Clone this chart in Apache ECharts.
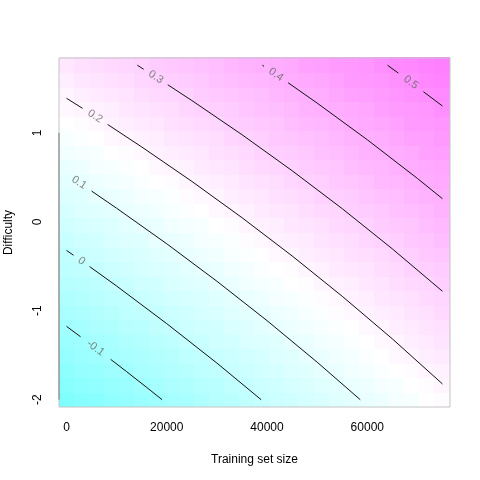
<!DOCTYPE html>
<html>
<head>
<meta charset="utf-8">
<script src="https://cdn.jsdelivr.net/npm/echarts@6/dist/echarts.min.js"></script>
<style>
  html, body { margin: 0; padding: 0; background: #fff; }
  #chart { width: 480px; height: 480px; }
</style>
</head>
<body>
<div id="chart"></div>
<script>
// cell centres of the image grid
var sizes = [0, 3000, 6000, 9000, 12000, 15000, 18000, 21000, 24000, 27000, 30000, 33000, 36000,
  39000, 42000, 45000, 48000, 51000, 54000, 57000, 60000, 63000, 66000, 69000, 72000, 75000];
var difficulty = [-2.000, -1.837, -1.673, -1.510, -1.346, -1.183, -1.019, -0.856, -0.692, -0.529,
  -0.365, -0.202, -0.038, 0.126, 0.289, 0.453, 0.616, 0.780, 0.943, 1.107, 1.270, 1.434, 1.597, 1.761];

// one row per difficulty value (bottom to top), one column per training size
var zValues = [
  [-0.20,-0.18,-0.17,-0.15,-0.14,-0.12,-0.11,-0.09,-0.08,-0.06,-0.04,-0.03,-0.01,0.00,0.02,0.03,0.05,0.06,0.08,0.09,0.11,0.12,0.14,0.15,0.17,0.18],
  [-0.18,-0.16,-0.15,-0.13,-0.12,-0.10,-0.09,-0.07,-0.06,-0.04,-0.03,-0.01,0.00,0.02,0.03,0.05,0.06,0.08,0.09,0.11,0.12,0.14,0.15,0.17,0.18,0.20],
  [-0.16,-0.14,-0.13,-0.11,-0.10,-0.08,-0.07,-0.05,-0.04,-0.02,-0.01,0.01,0.02,0.04,0.05,0.07,0.08,0.10,0.11,0.13,0.14,0.16,0.17,0.18,0.20,0.21],
  [-0.14,-0.12,-0.11,-0.09,-0.08,-0.07,-0.05,-0.04,-0.02,-0.01,0.01,0.02,0.04,0.05,0.07,0.08,0.10,0.11,0.13,0.14,0.16,0.17,0.19,0.20,0.22,0.23],
  [-0.12,-0.11,-0.09,-0.08,-0.06,-0.05,-0.03,-0.02,0.00,0.01,0.03,0.04,0.06,0.07,0.08,0.10,0.11,0.13,0.14,0.16,0.17,0.19,0.20,0.22,0.23,0.25],
  [-0.10,-0.09,-0.07,-0.06,-0.04,-0.03,-0.01,0.00,0.02,0.03,0.04,0.06,0.07,0.09,0.10,0.12,0.13,0.15,0.16,0.17,0.19,0.20,0.22,0.23,0.25,0.26],
  [-0.08,-0.07,-0.05,-0.04,-0.02,-0.01,0.00,0.02,0.03,0.05,0.06,0.08,0.09,0.10,0.12,0.13,0.15,0.16,0.18,0.19,0.21,0.22,0.23,0.25,0.26,0.28],
  [-0.06,-0.05,-0.03,-0.02,-0.01,0.01,0.02,0.04,0.05,0.06,0.08,0.09,0.11,0.12,0.14,0.15,0.16,0.18,0.19,0.21,0.22,0.24,0.25,0.26,0.28,0.29],
  [-0.04,-0.03,-0.02,0.00,0.01,0.03,0.04,0.06,0.07,0.08,0.10,0.11,0.13,0.14,0.15,0.17,0.18,0.20,0.21,0.22,0.24,0.25,0.27,0.28,0.29,0.31],
  [-0.02,-0.01,0.00,0.02,0.03,0.05,0.06,0.07,0.09,0.10,0.11,0.13,0.14,0.16,0.17,0.18,0.20,0.21,0.23,0.24,0.25,0.27,0.28,0.30,0.31,0.32],
  [-0.01,0.01,0.02,0.04,0.05,0.06,0.08,0.09,0.10,0.12,0.13,0.15,0.16,0.17,0.19,0.20,0.22,0.23,0.24,0.26,0.27,0.28,0.30,0.31,0.33,0.34],
  [0.01,0.03,0.04,0.06,0.07,0.08,0.10,0.11,0.12,0.14,0.15,0.16,0.18,0.19,0.21,0.22,0.23,0.25,0.26,0.27,0.29,0.30,0.31,0.33,0.34,0.36],
  [0.03,0.05,0.06,0.07,0.09,0.10,0.11,0.13,0.14,0.15,0.17,0.18,0.20,0.21,0.22,0.24,0.25,0.26,0.28,0.29,0.30,0.32,0.33,0.34,0.36,0.37],
  [0.05,0.07,0.08,0.09,0.11,0.12,0.13,0.15,0.16,0.17,0.19,0.20,0.21,0.23,0.24,0.25,0.27,0.28,0.29,0.31,0.32,0.33,0.35,0.36,0.37,0.39],
  [0.07,0.08,0.10,0.11,0.12,0.14,0.15,0.16,0.18,0.19,0.20,0.22,0.23,0.24,0.26,0.27,0.28,0.30,0.31,0.32,0.34,0.35,0.36,0.38,0.39,0.40],
  [0.09,0.10,0.12,0.13,0.14,0.16,0.17,0.18,0.20,0.21,0.22,0.23,0.25,0.26,0.27,0.29,0.30,0.31,0.33,0.34,0.35,0.37,0.38,0.39,0.41,0.42],
  [0.11,0.12,0.14,0.15,0.16,0.17,0.19,0.20,0.21,0.23,0.24,0.25,0.27,0.28,0.29,0.30,0.32,0.33,0.34,0.36,0.37,0.38,0.40,0.41,0.42,0.43],
  [0.13,0.14,0.15,0.17,0.18,0.19,0.21,0.22,0.23,0.24,0.26,0.27,0.28,0.30,0.31,0.32,0.33,0.35,0.36,0.37,0.39,0.40,0.41,0.42,0.44,0.45],
  [0.15,0.16,0.17,0.19,0.20,0.21,0.22,0.24,0.25,0.26,0.27,0.29,0.30,0.31,0.33,0.34,0.35,0.36,0.38,0.39,0.40,0.41,0.43,0.44,0.45,0.47],
  [0.17,0.18,0.19,0.21,0.22,0.23,0.24,0.26,0.27,0.28,0.29,0.31,0.32,0.33,0.34,0.36,0.37,0.38,0.39,0.41,0.42,0.43,0.44,0.46,0.47,0.48],
  [0.19,0.20,0.21,0.22,0.24,0.25,0.26,0.27,0.29,0.30,0.31,0.32,0.34,0.35,0.36,0.37,0.39,0.40,0.41,0.42,0.43,0.45,0.46,0.47,0.48,0.50],
  [0.20,0.22,0.23,0.24,0.25,0.27,0.28,0.29,0.30,0.32,0.33,0.34,0.35,0.36,0.38,0.39,0.40,0.41,0.43,0.44,0.45,0.46,0.48,0.49,0.50,0.51],
  [0.22,0.24,0.25,0.26,0.27,0.29,0.30,0.31,0.32,0.33,0.35,0.36,0.37,0.38,0.39,0.41,0.42,0.43,0.44,0.46,0.47,0.48,0.49,0.50,0.52,0.53],
  [0.24,0.26,0.27,0.28,0.29,0.30,0.32,0.33,0.34,0.35,0.36,0.38,0.39,0.40,0.41,0.42,0.44,0.45,0.46,0.47,0.48,0.50,0.51,0.52,0.53,0.54]
];

// contour lines, each split in two pieces around its label
var levels = ['-0.1', '0', '0.1', '0.2', '0.3', '0.4', '0.5'];
var contourM01 = [[[0,-1.175],[2800,-1.292]], [[8800,-1.546],[12000,-1.685],[16000,-1.862],[19070,-2]]];
var contour00 = [[[0,-0.321],[1400,-0.376]], [[4600,-0.503],[10000,-0.722],[20000,-1.145],[30000,-1.588],[38830,-2]]];
var contour01 = [[[0,0.534]], [[5000,0.346],[10000,0.153],[20000,-0.247],[30000,-0.668],[40000,-1.111],[50000,-1.578],[58600,-2]]];
var contour02 = [[[0,1.389],[3200,1.276]], [[8200,1.095],[15000,0.842],[25000,0.455],[35000,0.047],[45000,-0.383],[55000,-0.837],[65000,-1.316],[75000,-1.823]]];
var contour03 = [[[14120,1.761],[15400,1.715]], [[20200,1.541],[25000,1.364],[35000,0.980],[45000,0.575],[55000,0.148],[65000,-0.304],[75000,-0.781]]];
var contour04 = [[[39070,1.761],[39400,1.748]], [[44200,1.564],[50000,1.335],[60000,0.923],[70000,0.488],[75000,0.260]]];
var contour05 = [[[64030,1.761],[66200,1.672]], [[71200,1.463],[75000,1.302]]];
var contours = [contourM01, contour00, contour01, contour02, contour03, contour04, contour05];

var xTicks = [0, 20000, 40000, 60000];
var yTicks = [-2, -1, 0, 1];

var cellW = 3000, cellH = 0.1635;
var cells = [];
zValues.forEach(function (row, i) {
  row.forEach(function (v, j) {
    cells.push([sizes[j], difficulty[i], v]);
  });
});

var myChart = echarts.init(document.getElementById('chart'));

var series = [{
  type: 'custom',
  z: 1,
  silent: true,
  data: cells,
  encode: { x: 0, y: 1 },
  renderItem: function (params, api) {
    var p0 = api.coord([api.value(0) - cellW / 2, api.value(1) + cellH / 2]);
    var p1 = api.coord([api.value(0) + cellW / 2, api.value(1) - cellH / 2]);
    var x0 = Math.floor(p0[0]), y0 = Math.floor(p0[1]);
    var x1 = Math.ceil(p1[0]), y1 = Math.ceil(p1[1]);
    return {
      type: 'rect',
      shape: { x: x0, y: y0, width: x1 - x0, height: y1 - y0 },
      style: { fill: api.visual('color') }
    };
  }
}];

contours.forEach(function (pieces) {
  pieces.forEach(function (piece) {
    series.push({
      type: 'line',
      z: 3,
      silent: true,
      showSymbol: false,
      symbol: 'none',
      data: piece,
      lineStyle: { color: '#111', width: 1 }
    });
  });
});

// R style left axis line, only between the first and last tick
series.push({
  type: 'line',
  z: 5,
  silent: true,
  clip: false,
  symbol: 'none',
  data: [[-1500, -2], [-1500, 1]],
  lineStyle: { color: '#333', width: 1 }
});

var option = {
  animation: false,
  backgroundColor: '#fff',
  textStyle: { fontFamily: 'Liberation Sans, Arial, sans-serif' },
  grid: {
    left: 59, right: 30, top: 58, bottom: 73,
    outerBoundsMode: 'none',
    containLabel: false,
    show: true, z: 10,
    backgroundColor: 'transparent',
    borderColor: '#c4c4c4', borderWidth: 1
  },
  visualMap: {
    show: false,
    type: 'continuous',
    seriesIndex: 0,
    dimension: 2,
    min: -0.20,
    max: 0.54,
    inRange: { color: ['#80ffff', '#ffffff', '#ff80ff'] }
  },
  xAxis: {
    type: 'value',
    min: -1500,
    max: 76500,
    name: 'Training set size',
    nameLocation: 'middle',
    nameGap: 47,
    nameTextStyle: { fontSize: 12, color: '#000' },
    axisLine: { show: false },
    splitLine: { show: false },
    axisTick: { show: true, length: 7, customValues: xTicks, lineStyle: { color: '#888' } },
    axisLabel: {
      customValues: xTicks, fontSize: 12, color: '#000', margin: 15,
      formatter: function (v) { return String(v); }
    }
  },
  yAxis: {
    type: 'value',
    min: -2.082,
    max: 1.842,
    name: 'Difficulty',
    nameLocation: 'middle',
    nameGap: 44,
    nameTextStyle: { fontSize: 12, color: '#000' },
    axisLine: { show: false },
    splitLine: { show: false },
    axisTick: { show: true, length: 7, customValues: yTicks, lineStyle: { color: '#444' } },
    axisLabel: {
      customValues: yTicks, fontSize: 12, color: '#000', margin: 15, rotate: 90,
      formatter: function (v) { return String(v); }
    }
  },
  series: series
};

myChart.setOption(option, true);

// contour labels sit in the gap of each line, turned along it
var labelData = contours.map(function (pieces, k) {
  var a = pieces[0][pieces[0].length - 1];
  var b = pieces[1][0];
  var pa = myChart.convertToPixel({ gridIndex: 0 }, a);
  var pb = myChart.convertToPixel({ gridIndex: 0 }, b);
  var ang = Math.atan2(pb[1] - pa[1], pb[0] - pa[0]) * 180 / Math.PI;
  return {
    value: [(a[0] + b[0]) / 2, (a[1] + b[1]) / 2],
    name: levels[k],
    label: { rotate: -ang }
  };
});

myChart.setOption({
  series: series.concat([{
    type: 'scatter',
    z: 6,
    silent: true,
    symbolSize: 0,
    data: labelData,
    label: {
      show: true,
      position: 'inside',
      formatter: '{b}',
      fontSize: 11,
      color: '#666'
    }
  }])
});
</script>
</body>
</html>
